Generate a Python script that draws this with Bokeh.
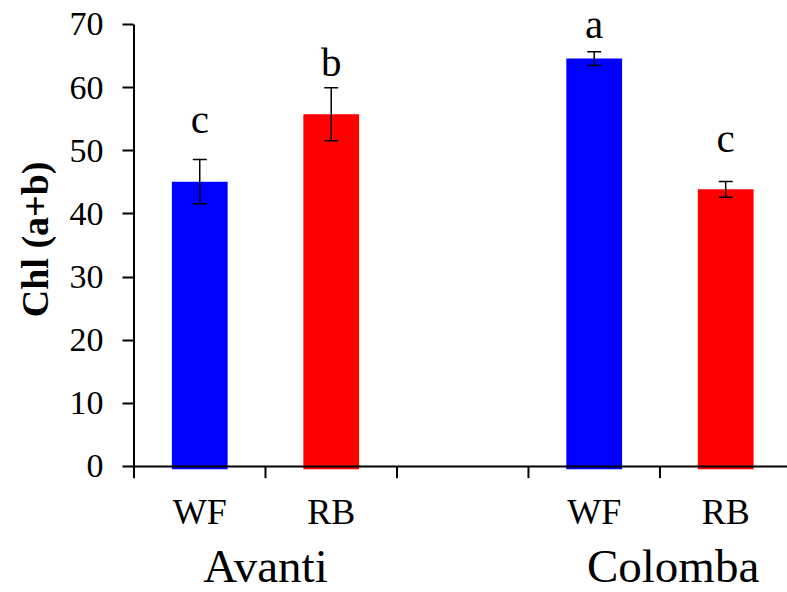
from bokeh.plotting import figure
from bokeh.models import Range1d, FixedTicker, LinearAxis, Whisker, TeeHead, ColumnDataSource, Title
from bokeh.core.properties import value
from bokeh.embed import file_html
from bokeh.resources import INLINE

# ---- data ----
groups = ["Avanti", "Colomba"]
treatments = ["WF", "RB", "WF", "RB"]
chl_values = [45.1, 55.8, 64.6, 43.9]
chl_errors = [3.5, 4.2, 1.1, 1.25]
sig_letters = ["c", "b", "a", "c"]
letter_heights = [55.1, 64.0, 70.1, 52.1]
bar_colors = ["#0000FF", "#FF0000", "#0000FF", "#FF0000"]
y_ticks = [0, 10, 20, 30, 40, 50, 60, 70]

# ---- layout ----
slot_index = [0, 1, 3, 4]          # WF, RB, (gap), WF, RB
centers = [i + 0.5 for i in slot_index]
boundaries = [0, 1, 2, 3, 4]
group_centers = [(centers[0] + centers[1]) / 2, (centers[2] + centers[3]) / 2]
group_shift = [0.0, 0.1]
group_x = [c + s for c, s in zip(group_centers, group_shift)]
tick_len = 1.85          # data units below the x axis
treat_label_y = -7.16
group_label_y = -15.77
FONT = "Liberation Serif"

src = ColumnDataSource(dict(
    x=centers, top=chl_values,
    upper=[v + e for v, e in zip(chl_values, chl_errors)],
    lower=[v - e for v, e in zip(chl_values, chl_errors)],
    letter=sig_letters, ly=letter_heights, color=bar_colors,
    tlabel=treatments, ty=[treat_label_y] * len(centers),
))
gsrc = ColumnDataSource(dict(x=group_x, y=[group_label_y] * len(groups), g=groups))
tsrc = ColumnDataSource(dict(x=boundaries, y0=[y_ticks[0]] * len(boundaries),
                             y1=[y_ticks[0] - tick_len] * len(boundaries)))

p = figure(width=787, height=592,
           x_range=Range1d(-0.0114, 4.97), y_range=Range1d(-19.96, 73.8),
           output_backend="svg", toolbar_location=None,
           x_axis_type=None, y_axis_type=None,
           min_border_left=129, min_border_right=0, min_border_top=0, min_border_bottom=0)
p.outline_line_color = None
p.xgrid.visible = False
p.ygrid.visible = False
p.background_fill_color = "white"
p.border_fill_color = "white"

# y axis (ticks + labels)
yaxis = LinearAxis(ticker=FixedTicker(ticks=y_ticks, minor_ticks=[]))
yaxis.axis_line_color = None
yaxis.major_tick_out = 10
yaxis.major_tick_in = 1
yaxis.major_tick_line_width = 2
yaxis.minor_tick_line_color = None
yaxis.major_label_standoff = 19
yaxis.major_label_text_font = FONT
yaxis.major_label_text_font_size = "34px"
yaxis.major_label_text_color = "black"
p.add_layout(yaxis, "left")

# y axis title
p.add_layout(Title(text="Chl (a+b)", align="right", offset=161, standoff=22,
                   text_font=FONT, text_font_style="bold", text_font_size="38px",
                   text_color="black"), "left")

# bars
p.vbar(x="x", top="top", bottom=-0.45, width=0.424, source=src,
       fill_color="color", line_color=None)

# axis lines (drawn over bars)
p.segment(x0=[boundaries[0]], y0=[y_ticks[0]], x1=[5.0], y1=[y_ticks[0]],
          line_color="black", line_width=2)
p.segment(x0=[boundaries[0]], y0=[y_ticks[0]], x1=[boundaries[0]], y1=[y_ticks[-1]],
          line_color="black", line_width=2)
# x ticks at slot boundaries
p.segment(x0="x", y0="y0", x1="x", y1="y1", source=tsrc, line_color="black", line_width=2)

# error bars
p.add_layout(Whisker(base="x", upper="upper", lower="lower", source=src, level="overlay",
                     line_color="black", line_width=1.5,
                     upper_head=TeeHead(size=14, line_width=1.5, line_color="black"),
                     lower_head=TeeHead(size=14, line_width=1.5, line_color="black")))

# significance letters
p.text(x="x", y="ly", text="letter", source=src,
       text_font=value(FONT), text_font_size="41px",
       text_align="center", text_baseline="middle", text_color="black")

# treatment labels
p.text(x="x", y="ty", text="tlabel", source=src,
       text_font=value(FONT), text_font_size="36px",
       text_align="center", text_baseline="middle", text_color="black")

# group labels
p.text(x="x", y="y", text="g", source=gsrc,
       text_font=value(FONT), text_font_size="47px",
       text_align="center", text_baseline="middle", text_color="black")

open("out.html", "w").write(file_html(p, INLINE))
